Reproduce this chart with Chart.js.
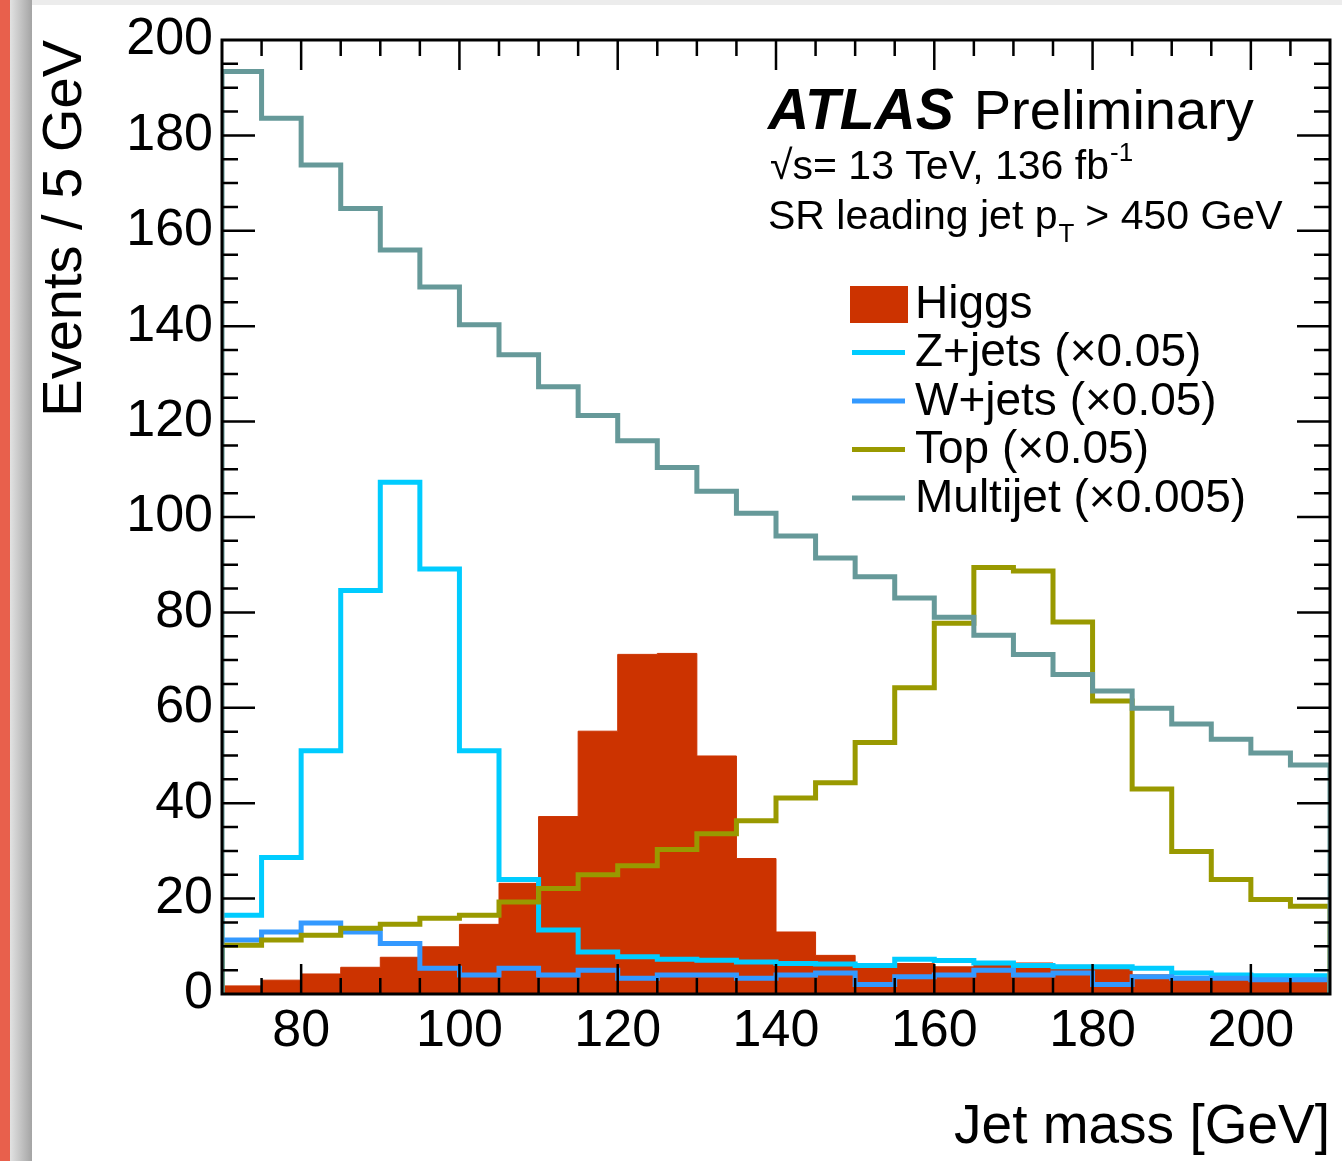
<!DOCTYPE html>
<html>
<head>
<meta charset="utf-8">
<title>Jet mass</title>
<script src="https://cdn.jsdelivr.net/npm/chart.js@4.4.1/dist/chart.umd.min.js"></script>
<style>
    html, body { margin: 0; padding: 0; background: #fff; width: 1342px; height: 1161px; overflow: hidden; }
    #edge { position: absolute; left: 0; top: 0; width: 10px; height: 1161px; background: #e8604c; }
    #shade { position: absolute; left: 10px; top: 0; width: 22px; height: 1161px; background: linear-gradient(to right, #e2e2e2, #a4a4a4); }
    #topband { position: absolute; left: 32px; top: 0; width: 1310px; height: 5px; background: #ececec; }
    #wrap { position: absolute; left: 32px; top: 5px; }
</style>
</head>
<body>
<div id="edge"></div>
<div id="shade"></div>
<div id="topband"></div>
<div id="wrap"><canvas id="massChart" width="1310" height="1156"></canvas></div>

<script>
// bin lower edges [GeV], 5 GeV wide
const binLow = [70, 75, 80, 85, 90, 95, 100, 105, 110, 115, 120, 125, 130, 135,
                140, 145, 150, 155, 160, 165, 170, 175, 180, 185, 190, 195, 200, 205];
const binWidth = 5;

const higgs    = [1.7, 2.9, 4.2, 5.6, 7.7, 9.9, 14.6, 23.2, 37.2, 55.1, 71.2, 71.4, 49.9, 28.4,
                  13.0, 8.1, 5.5, 6.4, 5.7, 6.5, 6.5, 6.0, 5.4, 4.0, 3.5, 3.3, 4.0, 3.5];
const zjets    = [16.5, 28.6, 51.0, 84.6, 107.3, 89.1, 51.0, 24.0, 13.4, 8.8, 7.8, 7.3, 7.1, 6.7,
                  6.4, 6.3, 6.0, 7.3, 7.0, 6.5, 6.0, 5.7, 5.7, 5.4, 4.4, 4.0, 3.8, 3.8];
const wjets    = [11.3, 13.0, 14.9, 13.0, 10.6, 5.4, 4.0, 5.4, 4.0, 5.0, 3.3, 4.0, 4.0, 3.3,
                  4.0, 4.4, 2.0, 3.6, 4.0, 5.0, 4.0, 4.4, 2.0, 3.6, 3.3, 3.3, 3.0, 3.0];
const topq     = [10.2, 11.3, 12.3, 13.8, 14.6, 15.9, 16.5, 19.3, 22.1, 25.0, 26.9, 30.3, 33.6, 36.3,
                  41.1, 44.3, 52.7, 64.2, 77.7, 89.4, 88.7, 78.0, 61.4, 43.0, 29.9, 24.0, 19.8, 18.4];
const multijet = [193.4, 183.6, 173.8, 164.7, 156.0, 148.2, 140.3, 134.0, 127.3, 121.3, 116.0, 110.4, 105.4, 100.8,
                  96.0, 91.4, 87.5, 83.0, 79.0, 75.2, 71.2, 67.0, 63.5, 59.9, 56.6, 53.4, 50.5, 48.0];

const seriesLabels = ['Higgs', 'Z+jets (\u00d70.05)', 'W+jets (\u00d70.05)', 'Top (\u00d70.05)', 'Multijet (\u00d70.005)'];
const seriesColors = ['#cc3300', '#00ccff', '#3399ff', '#999900', '#669999'];

const xTickLabels = [80, 100, 120, 140, 160, 180, 200];
const yTickLabels = [0, 20, 40, 60, 80, 100, 120, 140, 160, 180, 200];
const xRange = [70, 210];
const yRange = [0, 200];
const minorStep = 5;   // same on both axes

const FONT = '"Liberation Sans", Arial, Helvetica, sans-serif';

// histogram outline: start and end at zero, one point per bin edge
function histPoints(vals) {
    const last = vals.length - 1;
    const pts = [{ x: binLow[0], y: 0 }];
    vals.forEach((v, i) => pts.push({ x: binLow[i], y: v }));
    pts.push({ x: binLow[last] + binWidth, y: vals[last] });
    pts.push({ x: binLow[last] + binWidth, y: 0 });
    return pts;
}

// ROOT style frame with inward ticks on all four sides
const frameTicks = {
    id: 'frameTicks',
    afterDatasetsDraw(chart) {
        const { ctx, chartArea: a, scales: { x, y } } = chart;
        ctx.save();
        ctx.strokeStyle = '#000';
        ctx.lineWidth = 2.5;
        ctx.beginPath();
        for (let v = xRange[0] + minorStep; v < xRange[1]; v += minorStep) {
            const px = x.getPixelForValue(v);
            const len = xTickLabels.includes(v) ? 30 : 16;
            ctx.moveTo(px, a.bottom); ctx.lineTo(px, a.bottom - len);
            ctx.moveTo(px, a.top); ctx.lineTo(px, a.top + len);
        }
        for (let v = yRange[0] + minorStep; v < yRange[1]; v += minorStep) {
            const py = y.getPixelForValue(v);
            const len = yTickLabels.includes(v) ? 33 : 16;
            ctx.moveTo(a.left, py); ctx.lineTo(a.left + len, py);
            ctx.moveTo(a.right, py); ctx.lineTo(a.right - len, py);
        }
        ctx.stroke();
        ctx.lineWidth = 3;
        ctx.strokeRect(a.left, a.top, a.right - a.left, a.bottom - a.top);
        ctx.restore();
    }
};

// ATLAS label and legend
const labels = {
    id: 'labels',
    afterDraw(chart) {
        const { ctx, chartArea: a } = chart;
        ctx.save();
        ctx.fillStyle = '#000';
        ctx.textBaseline = 'alphabetic';
        ctx.textAlign = 'left';

        let tx = a.left + 546;
        ctx.font = 'italic bold 57px ' + FONT;
        ctx.fillText('ATLAS', tx, a.top + 89);
        tx += ctx.measureText('ATLAS').width + 20;
        ctx.font = '56px ' + FONT;
        ctx.fillText('Preliminary', tx, a.top + 89);

        tx = a.left + 548;
        ctx.font = '41px ' + FONT;
        ctx.fillText('\u221as= 13 TeV, 136 fb', tx, a.top + 139);
        tx += ctx.measureText('\u221as= 13 TeV, 136 fb').width;
        ctx.font = '26px ' + FONT;
        ctx.fillText('-1', tx + 1, a.top + 121);

        tx = a.left + 546;
        ctx.font = '41px ' + FONT;
        ctx.fillText('SR leading jet p', tx, a.top + 189);
        tx += ctx.measureText('SR leading jet p').width;
        ctx.font = '26px ' + FONT;
        ctx.fillText('T', tx + 1, a.top + 202);
        tx += ctx.measureText('T').width + 12;
        ctx.font = '41px ' + FONT;
        ctx.fillText('> 450 GeV', tx, a.top + 189);

        // legend
        ctx.textBaseline = 'middle';
        ctx.font = '46px ' + FONT;
        chart.data.datasets.forEach((ds, i) => {
            const cy = a.top + 264 + i * 48.5;
            const sx = a.left + 628;
            if (ds.fill) {
                ctx.fillStyle = ds.backgroundColor;
                ctx.fillRect(sx, cy - 18, 58, 37);
            } else {
                ctx.strokeStyle = ds.borderColor;
                ctx.lineWidth = 5;
                ctx.beginPath();
                ctx.moveTo(sx + 2, cy); ctx.lineTo(sx + 55, cy);
                ctx.stroke();
            }
            ctx.fillStyle = '#000';
            ctx.fillText(ds.label, sx + 65, cy + 1);
        });
        ctx.restore();
    }
};

const seriesData = [higgs, zjets, wjets, topq, multijet];

new Chart(document.getElementById('massChart'), {
    type: 'line',
    data: {
        datasets: seriesData.map((vals, i) => ({
            label: seriesLabels[i],
            data: histPoints(vals),
            stepped: 'before',
            borderColor: seriesColors[i],
            backgroundColor: seriesColors[i],
            borderWidth: i === 0 ? 1 : 5,
            fill: i === 0 ? 'origin' : false,
            pointRadius: 0,
            order: seriesData.length - i    // Higgs underneath, multijet on top
        }))
    },
    options: {
        responsive: false,
        animation: false,
        events: [],
        layout: { autoPadding: false, padding: { top: 31, right: 12, left: 0, bottom: 0 } },
        plugins: { legend: { display: false }, tooltip: { enabled: false } },
        scales: {
            x: {
                type: 'linear',
                min: xRange[0],
                max: xRange[1],
                grid: { display: false, drawTicks: false },
                border: { display: false },
                afterBuildTicks: s => { s.ticks = xTickLabels.map(v => ({ value: v })); },
                afterFit: s => { s.height = 167; },
                ticks: { color: '#000', font: { family: FONT, size: 52, lineHeight: 1 }, padding: 12, maxRotation: 0 },
                title: { display: true, text: 'Jet mass [GeV]', align: 'end', color: '#000',
                         font: { family: FONT, size: 55 }, padding: 0 }
            },
            y: {
                min: yRange[0],
                max: yRange[1],
                grid: { display: false, drawTicks: false },
                border: { display: false },
                afterBuildTicks: s => { s.ticks = yTickLabels.map(v => ({ value: v })); },
                afterFit: s => { s.width = 190; },
                ticks: { color: '#000', font: { family: FONT, size: 52, lineHeight: 1 }, padding: 9 },
                title: { display: true, text: 'Events / 5 GeV', align: 'end', color: '#000',
                         font: { family: FONT, size: 56 }, padding: 0 }
            }
        }
    },
    plugins: [frameTicks, labels]
});
</script>
</body>
</html>
